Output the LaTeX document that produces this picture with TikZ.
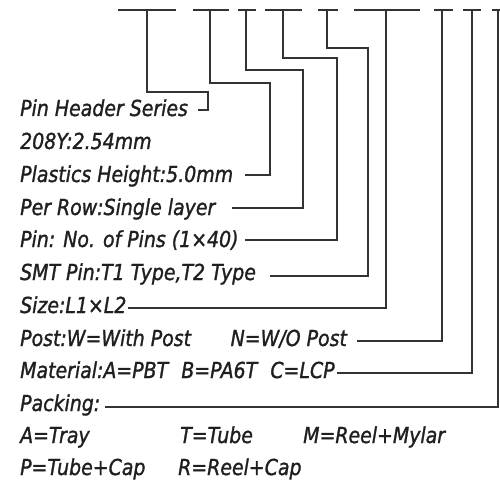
\documentclass[tikz,border=0pt]{standalone}
\usepackage{fontspec}
\setmainfont{DejaVu Sans}[FakeStretch=0.86,ItalicFeatures={FakeStretch=0.86,FakeBold=1.3}]
\begin{document}
\begin{tikzpicture}[x=1pt,y=-1pt,
  lbl/.style={anchor=base west,inner sep=0pt,font=\fontsize{22}{22}\selectfont\itshape,text=black!88},
  ln/.style={line width=1.7pt,draw=black!80},
  bar/.style={line width=1.7pt,draw=black!80}]
\useasboundingbox (0,0) rectangle (500,481);
% text rows
\node[lbl] (t1) at (20,116) {Pin Header Series};
\node[lbl] (t2) at (20,149) {208Y:2.54mm};
\node[lbl] (t3) at (20,182) {Plastics Height:5.0mm};
\node[lbl] (t4) at (20,215) {Per Row:Single layer};
\node[lbl] (t5) at (20,247) {Pin: No. of Pins (1×40)};
\node[lbl] (t6) at (20,280) {SMT Pin:T1 Type,T2 Type};
\node[lbl] (t7) at (20,313) {Size:L1×L2};
\node[lbl] (t8) at (20,346) {Post:W=With Post\hspace{1.8em}N=W/O Post};
\node[lbl] (t9) at (20,378) {Material:A=PBT\hspace{0.6em}B=PA6T\hspace{0.6em}C=LCP};
\node[lbl] (t10) at (20,411) {Packing:};
\node[lbl] (t11a) at (20,443) {A=Tray};
\node[lbl] (t11b) at (180,443) {T=Tube};
\node[lbl] (t11c) at (303,443) {M=Reel+Mylar};
\node[lbl] (t12a) at (20,475) {P=Tube+Cap};
\node[lbl] (t12b) at (178,475) {R=Reel+Cap};
% top bars
\coordinate (b1l) at (118,10); \coordinate (b1r) at (176,10); \coordinate (s1) at (147,10);
\coordinate (b2l) at (193,10); \coordinate (b2r) at (229,10); \coordinate (s2) at (210,10);
\coordinate (b3l) at (238,10); \coordinate (b3r) at (256,10); \coordinate (s3) at (246,10);
\coordinate (b4l) at (265,10); \coordinate (b4r) at (302,10); \coordinate (s4) at (283,10);
\coordinate (b5l) at (318,10); \coordinate (b5r) at (338,10); \coordinate (s5) at (327,10);
\coordinate (b6l) at (354,10); \coordinate (b6r) at (420,10); \coordinate (s6) at (386,10);
\coordinate (b7l) at (434,10); \coordinate (b7r) at (453,10); \coordinate (s7) at (442,10);
\coordinate (b8l) at (463,10); \coordinate (b8r) at (481,10); \coordinate (s8) at (472,10);
\coordinate (b9l) at (492,10); \coordinate (b9r) at (505,10); \coordinate (s9) at (498,10);
\foreach \i in {1,...,9} {\draw[bar] (b\i l) -- (b\i r);}
% line ends near texts
\coordinate (e1) at (198,110);
\coordinate (e3) at (245,175);
\coordinate (e4) at (232,208);
\coordinate (e5) at (245,240);
\coordinate (e6) at (270,276);
\coordinate (e7) at (128,308);
\coordinate (e8) at (357,341);
\coordinate (e9) at (337,373);
\coordinate (e10) at (105,407);
% connectors
\draw[ln] (s1) -- (147,92) -- (208,92) -- (208,110) -- (e1);
\draw[ln] (s2) -- (210,83) -- (270,83) -- (270,175) -- (e3);
\draw[ln] (s3) -- (246,70) -- (303,70) -- (303,208) -- (e4);
\draw[ln] (s4) -- (283,58) -- (337,58) -- (337,240) -- (e5);
\draw[ln] (s5) -- (327,48) -- (368,48) -- (368,276) -- (e6);
\draw[ln] (s6) |- (e7);
\draw[ln] (s7) |- (e8);
\draw[ln] (s8) |- (e9);
\draw[ln] (s9) |- (e10);
\end{tikzpicture}
\end{document}
